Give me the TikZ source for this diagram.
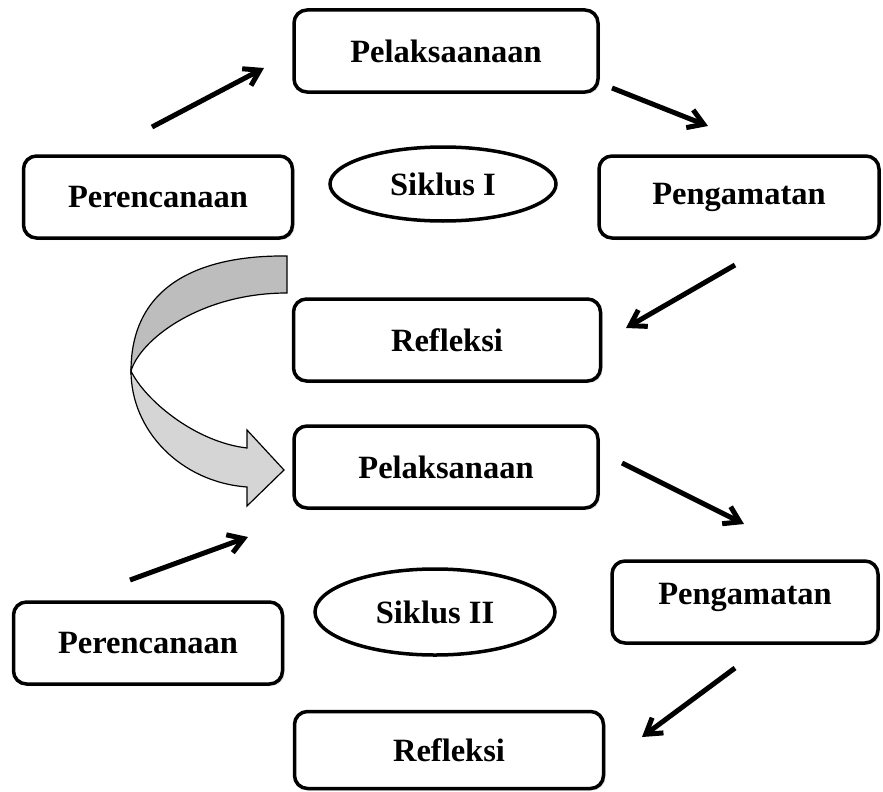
\documentclass[tikz,border=0pt]{standalone}
\usepackage{fontspec}
\setmainfont{Liberation Serif}
\usetikzlibrary{arrows.meta,shapes.geometric,shadows}

\begin{document}
\begin{tikzpicture}[x=1pt,y=-1pt,
  kotak/.style={draw,line width=3.5pt,rounded corners=13pt,fill=white,minimum height=82pt,
    font=\fontsize{32.5}{39}\selectfont\bfseries,
    drop shadow={shadow xshift=2pt,shadow yshift=-2pt,opacity=0.25}},
  siklus/.style={draw,ellipse,line width=3.5pt,fill=white,minimum width=226pt,minimum height=74pt,
    inner sep=0pt,font=\fontsize{32.5}{39}\selectfont\bfseries},
  panah/.style={line width=5pt,-{Straight Barb[length=15pt,width=19pt]}}]
\useasboundingbox (0,0) rectangle (883,792);

% panah lengkung dari siklus I ke siklus II
\filldraw[line width=1.2pt,fill=gray!52] (287,256) .. controls (200,255) and (131,285) .. (131,371)
  .. controls (140,340) and (200,293) .. (287,293) -- cycle;
\filldraw[line width=1.2pt,fill=gray!33] (131,371) .. controls (131,430) and (180,482) .. (247,487)
  -- (247,506) -- (284,470) -- (247,430) -- (247,448) .. controls (195,442) and (145,400) .. (131,371) -- cycle;

% siklus I
\node[kotak,minimum width=304pt] (pel1) at (446,51) {Pelaksaanaan};
\node[kotak,minimum width=269pt] (per1) at (158,197) {Perencanaan};
\node[siklus] (sik1) at (443,184) {Siklus I};
\node[kotak,minimum width=280pt] (pen1) at (739,197) {Pengamatan};
\node[kotak,minimum width=307pt] (ref1) at (447,340) {Refleksi};

% siklus II
\node[kotak,minimum width=304pt] (pel2) at (446,467) {Pelaksanaan};
\node[kotak,minimum width=266pt,text depth=16pt] (pen2) at (745,602) {Pengamatan};
\node[siklus,minimum width=240pt,minimum height=86pt] (sik2) at (435,612) {Siklus II};
\node[kotak,minimum width=269pt] (per2) at (148,643) {Perencanaan};
\node[kotak,minimum width=309pt,minimum height=77pt] (ref2) at (449,750) {Refleksi};

\coordinate (a1) at (152,127); \coordinate (b1) at (264,68);
\coordinate (a2) at (612,88);  \coordinate (b2) at (708,126);
\coordinate (a3) at (735,265); \coordinate (b3) at (626,328);
\coordinate (a4) at (130,580); \coordinate (b4) at (248,537);
\coordinate (a5) at (622,463); \coordinate (b5) at (744,524);
\coordinate (a6) at (735,668); \coordinate (b6) at (642,737);

\draw[panah] (a1) -- (b1);
\draw[panah] (a2) -- (b2);
\draw[panah] (a3) -- (b3);
\draw[panah] (a4) -- (b4);
\draw[panah] (a5) -- (b5);
\draw[panah] (a6) -- (b6);
\end{tikzpicture}
\end{document}
